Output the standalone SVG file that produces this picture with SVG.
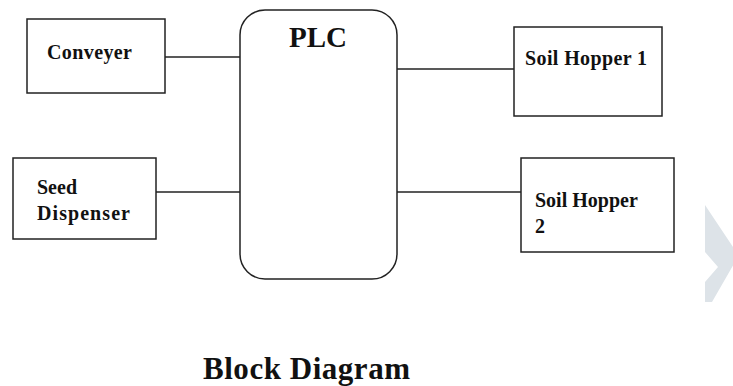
<svg xmlns="http://www.w3.org/2000/svg" width="733" height="386" viewBox="0 0 733 386">
<style>
.box{fill:#fff;stroke:#222;stroke-width:1.5}
.ln{stroke:#222;stroke-width:1.5;fill:none}
.t{font-family:"Liberation Serif","Times New Roman",serif;font-weight:bold;fill:#111;font-size:20px}
</style>
<rect width="733" height="386" fill="#fff"/>
<polygon points="705,205 735,250 735,262 712,302 705,302 705,282 718,267 705,252" fill="#dde3e8"/>
<g id="connectors">
<line class="ln" x1="165" y1="57" x2="240" y2="57"/>
<line class="ln" x1="156" y1="192" x2="240" y2="192"/>
<line class="ln" x1="397" y1="69" x2="518" y2="69"/>
<line class="ln" x1="397" y1="192" x2="521" y2="192"/>
</g>
<g id="plc">
<rect class="box" x="240" y="10" width="157" height="269" rx="25" ry="25"/>
<text class="t" x="318" y="47" text-anchor="middle" style="font-size:29px">PLC</text>
</g>
<g id="conveyer">
<rect class="box" x="27" y="19" width="138" height="74"/>
<text class="t" x="47" y="59" textLength="85">Conveyer</text>
</g>
<g id="seed">
<rect class="box" x="13" y="158" width="143" height="81"/>
<text class="t" x="37" y="194">Seed</text>
<text class="t" x="37" y="220" textLength="93">Dispenser</text>
</g>
<g id="hopper1">
<rect class="box" x="514" y="27" width="148" height="89"/>
<text class="t" x="525" y="65" textLength="122">Soil Hopper 1</text>
</g>
<g id="hopper2">
<rect class="box" x="521" y="158" width="153" height="94"/>
<text class="t" x="535" y="207">Soil Hopper</text>
<text class="t" x="535" y="233">2</text>
</g>
<text class="t" x="203" y="379" textLength="207" style="font-size:31px">Block Diagram</text>
</svg>
